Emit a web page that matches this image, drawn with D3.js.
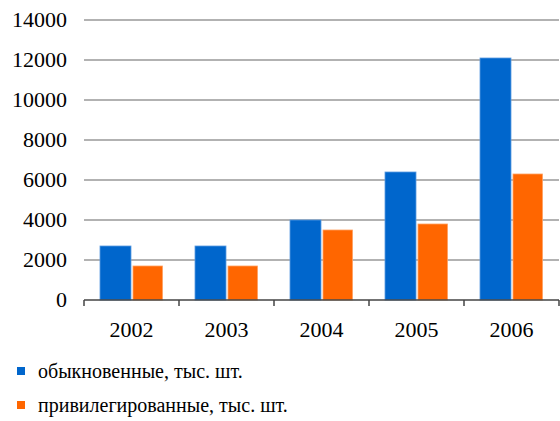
<!DOCTYPE html>
<meta charset="utf-8">
<style>
  body { margin: 0; background: #fff; }
  .grid line { stroke: #999; stroke-width: 1.5px; }
</style>
<svg width="560" height="421"></svg>
<script src="https://d3js.org/d3.v7.min.js"></script>
<script>
  var years = ["2002", "2003", "2004", "2005", "2006"];
  var seriesNames = ["обыкновенные, тыс. шт.", "привилегированные, тыс. шт."];
  var ordinary = [2700, 2700, 4000, 6400, 12100];
  var preferred = [1700, 1700, 3500, 3800, 6300];
  var yTicks = [0, 2000, 4000, 6000, 8000, 10000, 12000, 14000];
  var colors = ["#0066cc", "#ff6600"];
  var strokes = ["#5a9be0", "#ffa060"];
  var font = "'Liberation Serif', 'Times New Roman', Times, 'DejaVu Serif', serif";

  var svg = d3.select("svg");
  var mLeft = 84, mRight = 559, mTop = 20, mBottom = 300;

  var x0 = d3.scaleBand().domain(years).range([mLeft, mRight]);
  var x1 = d3.scaleBand().domain([0, 1])
    .range([15.5, x0.bandwidth() - 15.5]);
  var y = d3.scaleLinear().domain([0, 14000]).range([mBottom, mTop]);

  // gridlines
  svg.append("g").attr("class", "grid")
    .selectAll("line")
    .data(yTicks.filter(function(d) { return d > 0; }))
    .enter().append("line")
    .attr("x1", mLeft).attr("x2", mRight)
    .attr("y1", function(d) { return y(d); })
    .attr("y2", function(d) { return y(d); });

  // y labels
  svg.append("g")
    .selectAll("text")
    .data(yTicks)
    .enter().append("text")
    .attr("x", 67)
    .attr("y", function(d) { return y(d) + 7; })
    .attr("text-anchor", "end")
    .attr("font-family", font)
    .attr("font-size", 22)
    .text(function(d) { return d; });

  // bars
  var values = [ordinary, preferred];
  var rows = [];
  years.forEach(function(yr, i) {
    values.forEach(function(v, s) { rows.push({ year: yr, s: s, v: v[i] }); });
  });
  svg.append("g")
    .selectAll("rect")
    .data(rows)
    .enter().append("rect")
    .attr("x", function(d) { return x0(d.year) + x1(d.s) + 0.5 + (d.s ? 1 : 0); })
    .attr("y", function(d) { return y(d.v); })
    .attr("width", function(d) { return x1.bandwidth() - (d.s ? 2.5 : 1); })
    .attr("height", function(d) { return mBottom - y(d.v); })
    .attr("fill", function(d) { return colors[d.s]; })
    .attr("stroke", function(d) { return strokes[d.s]; })
    .attr("stroke-width", 0.8);

  // x axis
  var xAxis = svg.append("g");
  xAxis.append("line")
    .attr("x1", mLeft).attr("x2", mRight)
    .attr("y1", mBottom).attr("y2", mBottom)
    .attr("stroke", "#444").attr("stroke-width", 1.5);
  xAxis.selectAll(".tick")
    .data(years.concat(["end"]))
    .enter().append("line")
    .attr("x1", function(d, i) { return i < years.length ? x0(d) : mRight; })
    .attr("x2", function(d, i) { return i < years.length ? x0(d) : mRight; })
    .attr("y1", mBottom).attr("y2", mBottom + 6)
    .attr("stroke", "#444").attr("stroke-width", 1.5);
  xAxis.selectAll("text")
    .data(years)
    .enter().append("text")
    .attr("x", function(d) { return x0(d) + x0.bandwidth() / 2; })
    .attr("y", 337)
    .attr("text-anchor", "middle")
    .attr("font-family", font)
    .attr("font-size", 22)
    .text(function(d) { return d; });

  // legend
  var legend = svg.append("g")
    .selectAll("g")
    .data(seriesNames)
    .enter().append("g")
    .attr("transform", function(d, i) { return "translate(17," + (367 + i * 34) + ")"; });
  legend.append("rect")
    .attr("width", 8).attr("height", 8)
    .attr("fill", function(d, i) { return colors[i]; });
  legend.append("text")
    .attr("x", 21).attr("y", 11)
    .attr("font-family", font)
    .attr("font-size", 20)
    .text(function(d) { return d; });
</script>
